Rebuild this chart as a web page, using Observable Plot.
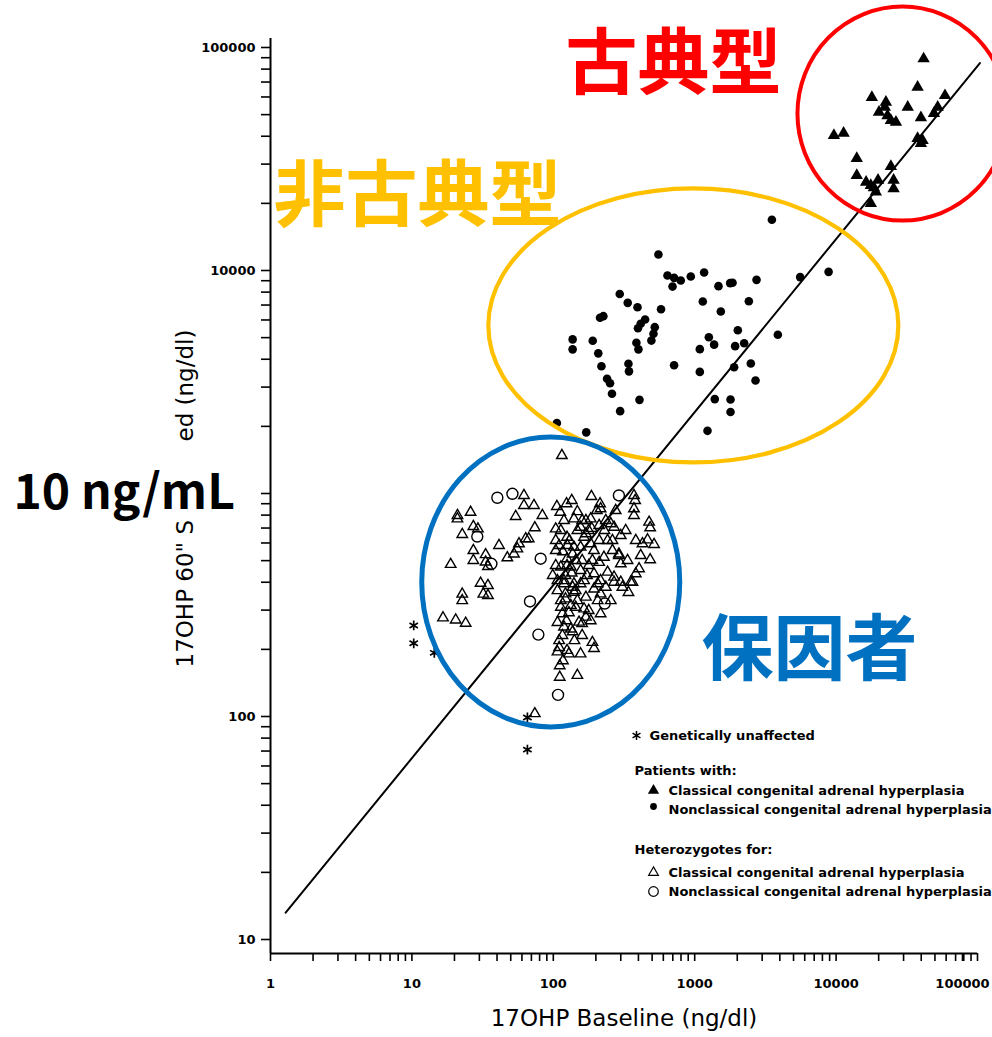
<!DOCTYPE html>
<html>
<head>
<meta charset="utf-8">
<script src="https://cdn.jsdelivr.net/npm/d3@7"></script>
<script src="https://cdn.jsdelivr.net/npm/@observablehq/plot@0.6"></script>
<style>
  html, body { margin: 0; padding: 0; background: #fff; overflow: hidden; }
  #chart svg { display: block; }
</style>
</head>
<body>
<div id="chart"></div>
<script>
// ---------------- DATA (ng/dl) ----------------
// [baseline 17OHP, 60' stimulated 17OHP]
const classicalPatients = [
  [41600,89000],[37700,66400],[17900,59700],[22500,56900],[22100,54000],[32100,54000],
  [20100,51300],[23100,49500],[24400,47100],[26500,46300],[39800,48500],[49200,50600],
  [52300,54000],[58900,60900],[9650,40300],[11300,41300],[37700,39100],[40900,38300],
  [39800,37100],[14000,31800],[24400,29300],[14000,26700],[16300,24900],[17600,24100],
  [19800,25400],[19100,22500],[25500,25400],[25500,23300],[17600,20000],[18500,23500]
];
const nonclassicalPatients = [
  [3515,16900],[554,11800],[642,9500],[715,9270],[797,9020],[697,8470],[938,9400],[1166,9800],
  [1473,8510],[1781,8780],[1852,8810],[2737,9080],[5570,9340],[8850,9860],[295,7840],[336,7160],
  [394,6840],[578,6700],[1141,7260],[2415,7280],[1530,6550],[214,6140],[226,6240],[446,6030],
  [415,5770],[397,5510],[522,5570],[511,5200],[494,4850],[137,4910],[137,4430],[190,4840],
  [387,4740],[400,4430],[208,4250],[2018,5400],[1259,5020],[1372,4650],[1087,4440],[1932,4580],
  [2238,4720],[3873,5150],[219,3720],[340,3820],[343,3530],[715,3760],[1087,3510],[1900,3680],
  [2494,3830],[2693,3210],[240,3270],[252,3120],[260,2800],[407,2630],[297,2340],[1387,2650],
  [1792,2640],[1792,2320],[1232,1910],[106,2070],[171,1880]
];
const heterozygotesClassical = [
  [115,1480],[62,980],[62,884],[73,884],[54.2,789],[83.7,797],[21,797],[21,770],[26,824],
  [27.2,712],[29.3,694],[22.7,655],[74,702],[41.3,585],[63.8,627],[57.2,595],[55.7,565],
  [52.7,536],[47.3,515],[27.2,555],[33.2,532],[27.2,501],[33.2,493],[34.5,471],[18.8,481],
  [30.6,396],[34.5,387],[32,354],[34.5,349],[22.7,354],[22.7,331],[16.6,277],[20.4,271],
  [24,262],[74,103],[67,627],
  [135,931],[186,970],[214,900],[216,854],[372,980],[379,931],[372,854],[372,797],[276,839],
  [112,824],[119,757],[140,770],[160,757],[184,770],[255,732],[269,706],[104,694],[125,637],
  [156,706],[170,660],[211,616],[104,616],[104,555],[140,575],[156,575],[194,555],[228,518],
  [262,555],[291,536],[300,648],[476,744],[484,702],[383,616],[427,595],[464,620],[516,591],
  [484,505],[404,460],[383,437],[363,400],[300,400],[269,422],[242,444],[300,484],[189,501],
  [160,501],[125,510],[113,468],[133,468],[156,452],[194,437],[206,394],[235,380],[216,355],
  [206,331],[170,343],[156,394],[137,380],[119,394],[107,407],[107,367],[122,355],[140,361],
  [144,309],[165,304],[170,279],[216,289],[113,309],[116,289],[107,264],[119,252],[133,247],
  [160,261],[160,231],[189,215],[194,202],[156,191],[129,191],[110,204],[110,219],[107,195],
  [111,169],[111,150],[148,153],
  [148,683],[165,637],[184,595],[137,536],[242,616],[291,527],[353,400],[165,407],[216,407],
  [194,373],[308,380],[269,400],[125,476],[119,407],[140,394],
  [122,429],[113,331],[129,292],[116,231],[124,269],[144,501],[178,476],[211,719],[230,683],
  [126,585],[113,683],[178,683],[148,331],[104,476],[184,269],[137,240],
  [110,585],[117,548],[130,616],[135,440],[144,367],[122,337],[133,315],[152,265],[141,219],
  [125,198],[170,757],[187,698],[203,839],[235,757],[262,616],[325,683],[335,501],[415,527],
  [340,360],[255,331],[173,429],[211,491],[106,875],[124,900],[148,830],[99,429],[178,299],
  [117,178]
];
const heterozygotesNonclassical = [
  [40.2,957],[51.4,997],[29,641],[36.5,484],[81.4,510],[68.4,328],[78.4,233],[108,125],
  [291,980],[231,321]
];
const geneticallyUnaffected = [
  [10.3,256],[10.3,213],[14.4,193],[65.6,99],[65.6,71]
];
const regressionLine = [[1.28,13.2],[104000,85100]];

// ---------------- TEXT ----------------
const xDecades = [1, 10, 100, 1000, 10000, 100000];
const xTickLabels = ["1", "10", "100", "1000", "10000", "100000"];
const yDecades = [10, 100, 1000, 10000, 100000];
const yTickLabels = ["10", "100", "1000", "10000", "100000"];
const minorSteps = [1, 2, 3, 4, 5, 6, 7, 8, 9];
const xTitle = "17OHP Baseline (ng/dl)";
// the y title is partly hidden in the reference by the "10 ng/mL" note: only these parts show
const yTitleVisible = ["17OHP 60\" S", "ed (ng/dl)"];
const groupNames = ["古典型", "非古典型", "保因者"];
const groupCentres = [[29700, 50300], [986, 5640], [96.7, 399]];
const thresholdNote = "10 ng/mL";
const legendHeaders = ["Patients with:", "Heterozygotes for:"];
const legendLabels = [
  "Genetically unaffected",
  "Classical congenital adrenal hyperplasia",
  "Nonclassical congenital adrenal hyperplasia",
  "Classical congenital adrenal hyperplasia",
  "Nonclassical congenital adrenal hyperplasia"
];

// ---------------- BUILD ----------------
const toXY = a => a.map(([x, y]) => ({x, y}));
const xTicks = xDecades.flatMap(d => minorSteps.map(m => d * m)).filter(v => v < 100000);
const yTicks = yDecades.flatMap(d => minorSteps.map(m => d * m)).filter(v => v < 100000).concat([100000]);
const xLab = new Map(xDecades.map((v, i) => [v, xTickLabels[i]]));
const yLab = new Map(yDecades.map((v, i) => [v, yTickLabels[i]]));
const hiddenYLabel = 1000; // covered by the "10 ng/mL" note in the reference

const M = {left: 270, top: 38};
const ellipseStyle = [
  {rx: 105, ry: 107, color: "#ff0000", width: 4},
  {rx: 205, ry: 137, color: "#ffc000", width: 4.2},
  {rx: 129, ry: 145, color: "#0070c0", width: 5}
];
const groupTextStyle = [
  {px: 673, py: 64, color: "#ff0000"},
  {px: 417, py: 196, color: "#ffc000"},
  {px: 809, py: 650, color: "#0070c0"}
];

const ellipses = (index, scales) => {
  const g = d3.create("svg:g").attr("fill", "none");
  groupCentres.forEach(([cx, cy], i) => {
    const s = ellipseStyle[i];
    g.append("ellipse")
      .attr("cx", scales.x(cx)).attr("cy", scales.y(cy))
      .attr("rx", s.rx).attr("ry", s.ry)
      .attr("stroke", s.color).attr("stroke-width", s.width);
  });
  return g.node();
};

const at = (px, py) => ({frameAnchor: "top-left", dx: px - M.left, dy: py - M.top});
const legendFont = {fontSize: 13, fontWeight: "bold", fontFamily: "DejaVu Sans", textAnchor: "start", lineAnchor: "middle", fill: "black"};

const legendRows = [
  {sym: {symbol: "asterisk", r: 4.3, stroke: "black", strokeWidth: 1.5, fill: "none"}, sx: 636, tx: 649, y: 735, label: legendLabels[0]},
  {sym: {symbol: "triangle", r: 4.2, fill: "black", stroke: "none"}, sx: 653, tx: 668, y: 790, label: legendLabels[1]},
  {sym: {symbol: "circle", r: 3.4, fill: "black", stroke: "none"}, sx: 653, tx: 668, y: 806, label: legendLabels[2], ty: 809},
  {sym: {symbol: "triangle", r: 3.6, fill: "none", stroke: "black", strokeWidth: 1.2}, sx: 653, tx: 668, y: 872, label: legendLabels[3]},
  {sym: {symbol: "circle", r: 4.8, fill: "none", stroke: "black", strokeWidth: 1.2}, sx: 653, tx: 668, y: 891, label: legendLabels[4]}
];
const legendMarks = legendRows.flatMap(row => [
  Plot.dot([0], {...at(row.sx, row.y), ...row.sym}),
  Plot.text([row.label], {...at(row.tx, row.ty ?? row.y), text: d => d, ...legendFont})
]).concat([
  Plot.text([legendHeaders[0]], {...at(634, 770), text: d => d, ...legendFont}),
  Plot.text([legendHeaders[1]], {...at(634, 849), text: d => d, ...legendFont})
]);

const tickText = {fontSize: 13, fontWeight: "bold", strokeWidth: 1.6, label: null};

const chart = Plot.plot({
  width: 992,
  height: 1037,
  marginLeft: 270,
  marginRight: 15,
  marginTop: 38,
  marginBottom: 84,
  x: {type: "log", domain: [1, 100000]},
  y: {type: "log", domain: [10, 100000], insetTop: 9, insetBottom: 14},
  style: {fontFamily: "DejaVu Sans", background: "white", color: "black", overflow: "visible"},
  marks: [
    Plot.axisX({ticks: xTicks, tickFormat: d => xLab.get(d) ?? "", tickSize: 8, tickPadding: 17, ...tickText}),
    Plot.axisX({ticks: [100000], tickFormat: d => xLab.get(d), tickSize: 8, tickPadding: 17, dx: -15, ...tickText}),
    Plot.axisX({ticks: [100000], tickFormat: () => "", tickSize: 8, tickPadding: 17, ...tickText}),
    Plot.axisY({ticks: yTicks, tickFormat: d => d === hiddenYLabel ? "" : (yLab.get(d) ?? ""), tickSize: 9, tickPadding: 6, ...tickText}),
    Plot.ruleX([1], {stroke: "black", strokeWidth: 2}),
    Plot.ruleY([10], {stroke: "black", strokeWidth: 2, dy: 14}),
    Plot.text([xTitle], {frameAnchor: "bottom", dy: 72, text: d => d, fontSize: 23, fill: "black", textAnchor: "middle"}),
    Plot.text([yTitleVisible[0]], {...at(185, 667), rotate: -90, text: d => d, fontSize: 23, fill: "black", textAnchor: "start", lineAnchor: "middle"}),
    Plot.text([yTitleVisible[1]], {...at(185, 441), rotate: -90, text: d => d, fontSize: 23, fill: "black", textAnchor: "start", lineAnchor: "middle"}),
    Plot.line(toXY(regressionLine), {x: "x", y: "y", stroke: "black", strokeWidth: 2}),
    Plot.dot(toXY(heterozygotesClassical), {x: "x", y: "y", symbol: "triangle", r: 3.9, fill: "none", stroke: "black", strokeWidth: 1.4}),
    Plot.dot(toXY(heterozygotesNonclassical), {x: "x", y: "y", symbol: "circle", r: 5.5, fill: "none", stroke: "black", strokeWidth: 1.4}),
    Plot.dot(toXY(geneticallyUnaffected), {x: "x", y: "y", symbol: "asterisk", r: 4.6, fill: "none", stroke: "black", strokeWidth: 1.7}),
    Plot.dot(toXY(nonclassicalPatients), {x: "x", y: "y", symbol: "circle", r: 4.3, fill: "black", stroke: "none"}),
    Plot.dot(toXY(classicalPatients), {x: "x", y: "y", symbol: "triangle", r: 4.6, fill: "black", stroke: "none"}),
    ellipses,
    ...legendMarks,
    ...groupNames.map((name, i) => Plot.text([name], {
      ...at(groupTextStyle[i].px, groupTextStyle[i].py), text: d => d,
      fontSize: 72, fontWeight: "bold", fontFamily: "Noto Sans CJK JP", fill: groupTextStyle[i].color,
      textAnchor: "middle", lineAnchor: "middle"
    })),
    Plot.text([thresholdNote], {...at(13, 508), text: d => d, fontSize: 48, fontWeight: "bold",
      fontFamily: "Noto Sans CJK JP", fill: "black", textAnchor: "start", lineAnchor: "bottom"})
  ]
});
document.getElementById("chart").appendChild(chart);
</script>
</body>
</html>
